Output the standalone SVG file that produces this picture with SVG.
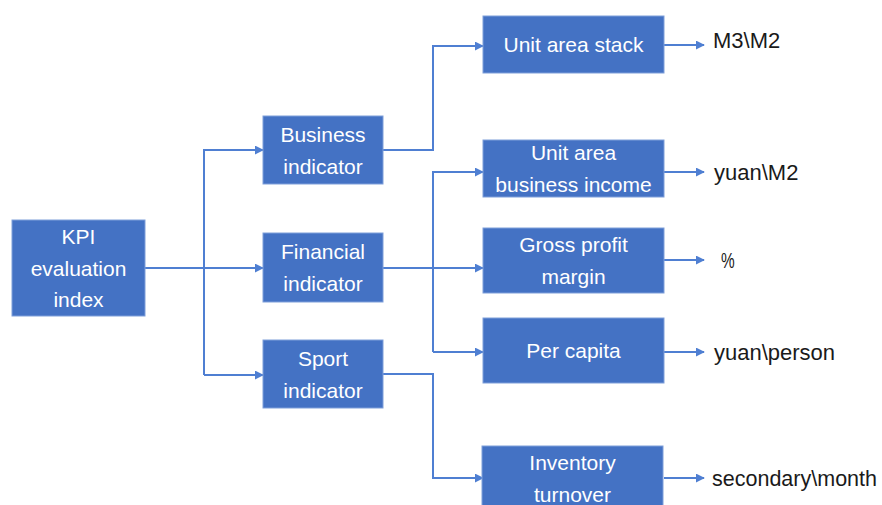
<svg xmlns="http://www.w3.org/2000/svg" width="882" height="505" viewBox="0 0 882 505">
  <style>
    .box { fill: #4472C4; stroke: #7f9fda; stroke-width: 1; }
    .lbl { fill: #ffffff; font-family: "Microsoft YaHei", "Liberation Sans", "Noto Sans CJK SC", sans-serif; font-size: 21px; text-anchor: middle; }
    .unit { fill: #1a1a1a; font-family: "Microsoft YaHei", "Liberation Sans", "Noto Sans CJK SC", sans-serif; font-size: 22px; }
    .wire { fill: none; stroke: #4f7fd2; stroke-width: 2; }
  </style>
  <defs>
    <marker id="head" viewBox="0 0 10 10" refX="9" refY="5" markerWidth="4.5" markerHeight="4.5" orient="auto" markerUnits="strokeWidth">
      <path d="M0,0 L10,5 L0,10 z" fill="#4f7fd2"/>
    </marker>
  </defs>
  <rect width="882" height="505" fill="#ffffff"/>

  <g id="connectors">
    <!-- root to first level -->
    <path class="wire" d="M145,268 H263" marker-end="url(#head)"/>
    <path class="wire" d="M204,375 V150 H263" marker-end="url(#head)"/>
    <path class="wire" d="M204,375 H263" marker-end="url(#head)"/>
    <!-- first level to second level -->
    <path class="wire" d="M383,150 H433 V46 H483" marker-end="url(#head)"/>
    <path class="wire" d="M383,268 H483" marker-end="url(#head)"/>
    <path class="wire" d="M433,352 V172 H483" marker-end="url(#head)"/>
    <path class="wire" d="M433,352 H483" marker-end="url(#head)"/>
    <path class="wire" d="M383,374 H433 V478 H483" marker-end="url(#head)"/>
    <!-- second level to units -->
    <path class="wire" d="M664,45 H704" marker-end="url(#head)"/>
    <path class="wire" d="M664,172 H704" marker-end="url(#head)"/>
    <path class="wire" d="M664,260 H704" marker-end="url(#head)"/>
    <path class="wire" d="M664,352 H704" marker-end="url(#head)"/>
    <path class="wire" d="M664,478 H704" marker-end="url(#head)"/>
  </g>

  <g id="kpi">
    <rect class="box" x="12" y="220" width="133" height="96"/>
    <text class="lbl" x="78.5" y="244">KPI</text>
    <text class="lbl" x="78.5" y="276">evaluation</text>
    <text class="lbl" x="78.5" y="307">index</text>
  </g>

  <g id="business">
    <rect class="box" x="263" y="116" width="120" height="68"/>
    <text class="lbl" x="323" y="142">Business</text>
    <text class="lbl" x="323" y="174">indicator</text>
  </g>

  <g id="financial">
    <rect class="box" x="263" y="233" width="120" height="69"/>
    <text class="lbl" x="323" y="259">Financial</text>
    <text class="lbl" x="323" y="291">indicator</text>
  </g>

  <g id="sport">
    <rect class="box" x="263" y="340" width="120" height="68"/>
    <text class="lbl" x="323" y="366">Sport</text>
    <text class="lbl" x="323" y="398">indicator</text>
  </g>

  <g id="unit-area-stack">
    <rect class="box" x="483" y="16" width="181" height="57"/>
    <text class="lbl" x="573.5" y="52">Unit area stack</text>
  </g>

  <g id="unit-area-income">
    <rect class="box" x="483" y="140" width="181" height="57"/>
    <text class="lbl" x="573.5" y="160">Unit area</text>
    <text class="lbl" x="573.5" y="192">business income</text>
  </g>

  <g id="gross-profit">
    <rect class="box" x="483" y="228" width="181" height="65"/>
    <text class="lbl" x="573.5" y="252">Gross profit</text>
    <text class="lbl" x="573.5" y="284">margin</text>
  </g>

  <g id="per-capita">
    <rect class="box" x="483" y="318" width="181" height="65"/>
    <text class="lbl" x="573.5" y="358">Per capita</text>
  </g>

  <g id="inventory">
    <rect class="box" x="482" y="446" width="181" height="64"/>
    <text class="lbl" x="572.5" y="470">Inventory</text>
    <text class="lbl" x="572.5" y="502">turnover</text>
  </g>

  <g id="units">
    <text class="unit" x="713" y="48">M3\M2</text>
    <text class="unit" x="714" y="180">yuan\M2</text>
    <text class="unit" transform="translate(721 268) scale(0.7 1)">%</text>
    <text class="unit" x="714" y="360">yuan\person</text>
    <text class="unit" x="712" y="486" textLength="165" lengthAdjust="spacingAndGlyphs">secondary\month</text>
  </g>
</svg>
